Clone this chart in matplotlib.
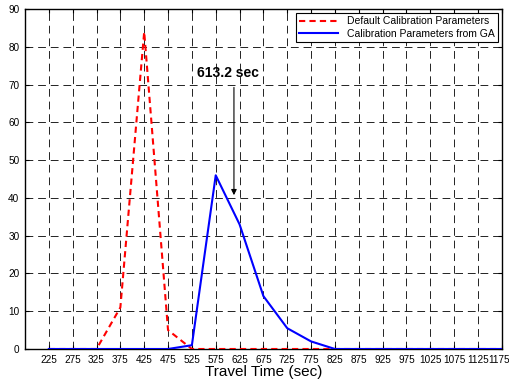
import matplotlib.pyplot as plt
import matplotlib.transforms as mtransforms

plt.rcParams['font.family'] = ['Liberation Sans', 'DejaVu Sans']

# travel time bins (sec)
travel_time = [225, 275, 325, 375, 425, 475, 525, 575, 625, 675, 725, 775,
               825, 875, 925, 975, 1025, 1075, 1125, 1175]
# percentage of vehicles
default_params = [0, 0, 0, 11, 84, 5, 0, 0, 0, 0, 0, 0,
                  0, 0, 0, 0, 0, 0, 0, 0]
ga_params = [0, 0, 0, 0, 0, 0, 1, 46, 33, 14, 5.5, 2,
             0, 0, 0, 0, 0, 0, 0, 0]

mean_time = 613.2

fig = plt.figure(figsize=(5.1, 3.81), dpi=100)
ax = fig.add_axes([0.049, 0.084, 0.935, 0.892])

ax.plot(travel_time, default_params, color='red', linestyle=(0, (3, 2)),
        linewidth=1.5, label='Default Calibration Parameters', zorder=3)
ax.plot(travel_time, ga_params, color='blue', linestyle='-',
        linewidth=1.5, label='Calibration Parameters from GA', zorder=3)

ax.annotate('', xy=(mean_time, 40), xytext=(mean_time, 70),
            arrowprops=dict(arrowstyle='-|>', color='k', lw=0.8,
                            mutation_scale=8))
ax.text(mean_time - 12, 71.3, '%.1f sec' % mean_time, ha='center',
        va='bottom', fontsize=10, fontweight='bold')

ax.set_xlim(175, 1175)
ax.set_ylim(0, 90)
ax.set_xticks(travel_time)
ax.set_yticks(range(0, 91, 10))
ax.tick_params(direction='in', top=True, right=True, labelsize=7.2,
               length=3, pad=4)
ax.grid(True, color='#222222', linestyle=(0, (8, 5)), linewidth=0.7)
ax.set_xlabel('Travel Time (sec)', fontsize=11, labelpad=0)

# nudge the last tick label so it stays inside the figure
last = ax.get_xticklabels()[-1]
last.set_transform(last.get_transform() +
                   mtransforms.ScaledTranslation(-3 / 100, 0,
                                                 fig.dpi_scale_trans))

for s in ax.spines.values():
    s.set_linewidth(1.0)

leg = ax.legend(loc='upper right', fontsize=7.5, fancybox=False,
                framealpha=1, edgecolor='k', borderaxespad=0.4,
                handlelength=3.8, borderpad=0.3, labelspacing=0.25)
leg.get_frame().set_linewidth(0.8)

fig.savefig('out.png', dpi=100)
